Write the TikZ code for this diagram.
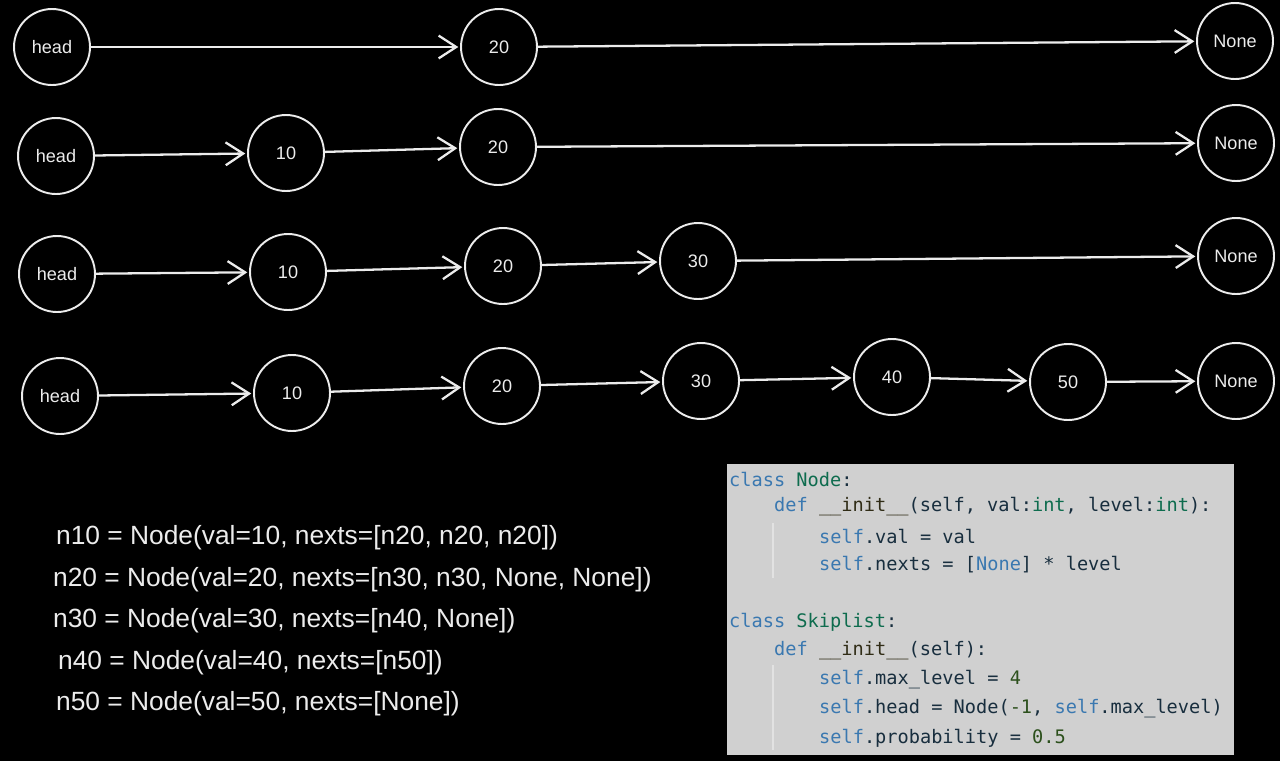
\documentclass[tikz,border=0pt]{standalone}
\usepackage{fontspec}
\usepackage{xcolor}
\usetikzlibrary{arrows.meta}
\newfontfamily\handfont{Liberation Sans}
\newfontfamily\codefont{DejaVu Sans Mono}

\definecolor{sketch}{RGB}{236,236,236}
\definecolor{codebg}{RGB}{208,208,208}
\definecolor{codeguide}{RGB}{226,226,226}
\definecolor{codekw}{RGB}{58,120,176}
\definecolor{codecls}{RGB}{14,108,78}
\definecolor{codetxt}{RGB}{24,46,62}
\definecolor{codefn}{RGB}{48,44,22}
\definecolor{codenr}{RGB}{44,80,28}

\newcommand\kw[1]{\textcolor{codekw}{#1}}
\newcommand\clsname[1]{\textcolor{codecls}{#1}}
\newcommand\fn[1]{\textcolor{codefn}{#1}}
\newcommand\nr[1]{\textcolor{codenr}{#1}}

\begin{document}
\begin{tikzpicture}[x=0.02cm,y=-0.02cm,->,>={Straight Barb[length=10pt,width=13pt]},shorten >=1pt,color=sketch,line width=1.3pt,
                    main node/.style={circle,draw,line width=1.1pt,minimum size=1.52cm,inner sep=0pt,font=\handfont\fontsize{10.3}{12}\selectfont},
                    hand line/.style={anchor=west,inner sep=0pt,font=\handfont\fontsize{15}{18}\selectfont},
                    code line/.style={anchor=west,inner sep=0pt,text=codetxt,font=\codefont\fontsize{10.6}{13}\selectfont}]
                    \fill[black] (0,0) rectangle (1280,761);

                    % level 4
                    \node[main node] (h1) at (52,47) {head};
                    \node[main node] (a20) at (499,47) {20};
                    \node[main node] (a0) at (1235,41) {None};

                    % level 3
                    \node[main node] (h2) at (56,156) {head};
                    \node[main node] (b10) at (286,153) {10};
                    \node[main node] (b20) at (498,147) {20};
                    \node[main node] (b0) at (1236,143) {None};

                    % level 2
                    \node[main node] (h3) at (57,274) {head};
                    \node[main node] (c10) at (288,272) {10};
                    \node[main node] (c20) at (503,266) {20};
                    \node[main node] (c30) at (698,261) {30};
                    \node[main node] (c0) at (1236,256) {None};

                    % level 1
                    \node[main node] (h4) at (60,396) {head};
                    \node[main node] (d10) at (292,393) {10};
                    \node[main node] (d20) at (502,386) {20};
                    \node[main node] (d30) at (701,381) {30};
                    \node[main node] (d40) at (892,377) {40};
                    \node[main node] (d50) at (1068,382) {50};
                    \node[main node] (d0) at (1236,381) {None};

                    \path
                            (h1) edge (a20)
                            (a20) edge (a0)

                            (h2) edge (b10)
                            (b10) edge (b20)
                            (b20) edge (b0)

                            (h3) edge (c10)
                            (c10) edge (c20)
                            (c20) edge (c30)
                            (c30) edge (c0)

                            (h4) edge (d10)
                            (d10) edge (d20)
                            (d20) edge (d30)
                            (d30) edge (d40)
                            (d40) edge (d50)
                            (d50) edge (d0)
                        ;

                    \node[hand line] (t10) at (55,538) {n10 = Node(val=10, nexts=[n20, n20, n20])};
                    \node[hand line] (t20) at (52,580) {n20 = Node(val=20, nexts=[n30, n30, None, None])};
                    \node[hand line] (t30) at (52,621) {n30 = Node(val=30, nexts=[n40, None])};
                    \node[hand line] (t40) at (57,663) {n40 = Node(val=40, nexts=[n50])};
                    \node[hand line] (t50) at (55,704) {n50 = Node(val=50, nexts=[None])};

                    % code box
                    \fill[codebg] (727,464) rectangle (1234,755);
                    \draw[-,codeguide,line width=0.8pt] (773,523) -- (773,580);
                    \draw[-,codeguide,line width=0.8pt] (773,665) -- (773,752);
                    \node[code line] (k1) at (728,479) {\kw{class} \clsname{Node}:};
                    \node[code line] (k2) at (773,507) {\kw{def} \fn{\_\_init\_\_}(self, val:\clsname{int}, level:\clsname{int}):};
                    \node[code line] (k3) at (818,536) {\kw{self}.val = val};
                    \node[code line] (k4) at (818,565) {\kw{self}.nexts = [\kw{None}] * level};
                    \node[code line] (k5) at (728,622) {\kw{class} \clsname{Skiplist}:};
                    \node[code line] (k6) at (773,651) {\kw{def} \fn{\_\_init\_\_}(self):};
                    \node[code line] (k7) at (818,680) {\kw{self}.max\_level = \nr{4}};
                    \node[code line] (k8) at (818,709) {\kw{self}.head = Node(\nr{-1}, \kw{self}.max\_level)};
                    \node[code line] (k9) at (818,738) {\kw{self}.probability = \nr{0.5}};
                \end{tikzpicture}
\end{document}
